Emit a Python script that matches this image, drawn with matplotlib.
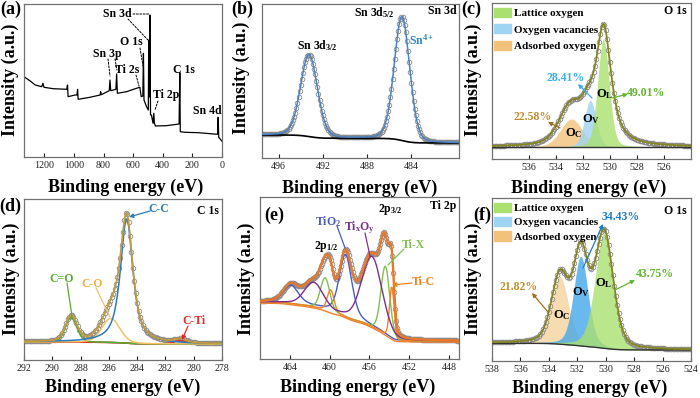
import numpy as np
import matplotlib
matplotlib.use('Agg')
import matplotlib.pyplot as plt
from matplotlib.patches import Patch

plt.rcParams['font.family'] = ['Liberation Serif', 'DejaVu Serif']
plt.rcParams['mathtext.fontset'] = 'custom'
plt.rcParams['mathtext.rm'] = 'Liberation Serif'
plt.rcParams['mathtext.bf'] = 'Liberation Serif:bold'
plt.rcParams['mathtext.it'] = 'Liberation Serif:italic'

# ---------------- data ----------------
# (a) survey spectrum
survey_ev = [1335, 1296, 1262, 1218, 1210, 1203, 1140, 1049, 1044, 1040, 993, 980, 976, 972,
             893, 824, 820, 816, 762, 757, 752, 717, 712, 707, 645, 566, 555, 546, 535, 531,
             527, 510, 498, 495, 491, 487, 483, 477, 466, 461, 457, 450, 376, 290, 285, 282,
             250, 159, 30, 26, 22, 0]
survey_int = [80, 76, 72, 70.3, 73.7, 69.7, 68.3, 67.7, 72, 60.3, 62, 62, 67.7, 57.7,
              59.7, 62, 65.3, 62.3, 66.3, 77, 66.3, 67.7, 83, 63.7, 65.3, 69.3, 69.7, 60.3, 61, 103.7,
              57, 50.3, 47, 117, 60, 142, 42, 42, 33.7, 43.7, 34, 31, 31.3, 33, 84.3, 25.3,
              24.7, 24.3, 22.7, 39.7, 19.7, 15.7]
survey_labels = ['Sn 3d', 'O 1s', 'Sn 3p', 'Ti 2s', 'Ti 2p', 'C 1s', 'Sn 4d']

# (b) Sn 3d
b_names = ['Sn 3d3/2', 'Sn 3d5/2']
b_centers = [493.25, 484.85]
b_heights = [82, 124]
b_fwhm = [1.8, 1.65]
b_eta = [0.15, 0.15]
b_bg = [23, 15]

# (c) O 1s components
c_names = ['Adsorbed oxygen', 'Oxygen vacancies', 'Lattice oxygen']
c_centers = [532.83, 531.44, 530.47]
c_heights = [28, 47, 108]
c_fwhm = [1.9, 1.0, 1.0]
c_eta = [0.2, 0.2, 0.2]
c_pct = ['22.58%', '28.41%', '49.01%']
c_bg = [12, 12]
# (c) fitted envelope
c_env_centers = [530.45, 531.6, 532.9]
c_env_heights = [118, 22, 38]
c_env_fwhm = [1.35, 1.2, 2.0]
c_env_eta = [0.8, 0.3, 0.4]

# (d) C 1s
d_names = ['C-C', 'C-O', 'C=O', 'C-Ti']
d_centers = [284.74, 285.86, 288.66, 280.95]
d_heights = [125, 24, 25, 3.5]
d_fwhm = [1.05, 1.5, 0.95, 1.0]
d_eta = [0.8, 0.2, 0.2, 0.2]
d_bg = [18, 16]

# (e) Ti 2p  (2p3/2, 2p1/2 for each species)
e_names = ['TiO2', 'Ti-X', 'Ti-C', 'TixOy']
e_centers = [[458.4, 463.9], [454.4, 460.45], [453.75, 459.9], [455.75, 461.6]]
e_heights = [[62, 18], [68, 32], [52, 22], [70, 24]]
e_fwhm = [[1.5, 1.8], [1.05, 1.1], [0.55, 0.8], [2.4, 2.2]]
e_eta = [0.4, 0.1, 0.1, 0.2]
e_bg = [57, 18]

# (f) O 1s
f_names = ['Adsorbed oxygen', 'Oxygen vacancies', 'Lattice oxygen']
f_centers = [533.21, 531.75, 530.11]
f_heights = [68, 90, 115]
f_fwhm = [1.4, 1.2, 1.5]
f_eta = [0.3, 0.3, 0.3]
f_pct = ['21.82%', '34.43%', '43.75%']
f_bg = [17.7, 11]

# ---------------- helpers ----------------
W, H = 700, 398
fig = plt.figure(figsize=(7, 3.98), dpi=100)


def box(l, t, r, b):
    return [l / W, 1 - b / H, (r - l) / W, (b - t) / H]


def F(px, py):
    return (px / W, 1 - py / H)


def pv(x, c, h, w, eta):
    g = np.exp(-4 * np.log(2) * ((x - c) / w) ** 2)
    l = 1.0 / (1 + 4 * ((x - c) / w) ** 2)
    return h * (eta * l + (1 - eta) * g)


def shirley(x, p, left, right):
    cum = np.cumsum(p)
    return right + (left - right) * cum / cum[-1]


SPINE = '#707070'
GRAY = '#8a8a8a'


def style(ax, xlim, ylim, ticks):
    ax.set_xlim(*xlim)
    ax.set_ylim(*ylim)
    ax.set_xticks(ticks)
    ax.set_yticks([])
    ax.tick_params(axis='x', direction='in', length=3, width=0.8, pad=3,
                   labelsize=7.2, colors='#222222')
    for s in ax.spines.values():
        s.set_color(SPINE)
        s.set_linewidth(0.9)


def txt(px, py, s, size=8.5, color='black', **kw):
    fig.text(*F(px, py), s, fontsize=size, fontweight='bold', color=color,
             ha=kw.pop('ha', 'center'), va=kw.pop('va', 'center'), **kw)


def arrow(p0, p1, color, head=True, ls='-', lw=0.9):
    fig.add_artist(matplotlib.patches.FancyArrowPatch(
        F(*p0), F(*p1), transform=fig.transFigure,
        arrowstyle='-|>' if head else '-', mutation_scale=6,
        color=color, lw=lw, linestyle=ls, shrinkA=0, shrinkB=0))


def circles(ax, x, y):
    ax.plot(x, y, 'o', ms=3.3, mfc='none', mec=GRAY, mew=0.6, zorder=2)


LEG = dict(loc='upper left', frameon=False, prop={'weight': 'bold', 'size': 8},
           handlelength=1.5, handleheight=0.9, handletextpad=0.3, borderpad=0.2,
           borderaxespad=0.0)

# ---------------- (a) ----------------
axa = fig.add_axes(box(24, 4, 222, 157))
axa.plot(survey_ev, survey_int, color='black', lw=0.9)
style(axa, (1338, 0), (0, 153), [1200, 1000, 800, 600, 400, 200, 0])
lab_pos = [(117, 14), (131, 42), (107, 54), (127, 70), (166, 95), (184, 70), (207, 111)]
for s, p in zip(survey_labels, lab_pos):
    txt(*p, s)
for p0, p1 in [((133, 14), (150, 14)), ((128, 19), (148, 40)), ((140, 48), (143, 66)),
               ((108, 59), (110, 76)), ((115, 59), (117, 70)), ((136, 75), (139, 86)),
               ((158, 101), (155, 110))]:
    arrow(p0, p1, 'black', head=False, ls=(0, (2, 1.5)), lw=0.7)

# ---------------- (b) ----------------
axb = fig.add_axes(box(262, 4, 459, 158))
xb = np.arange(479.7, 497.55, 0.1)
pb = sum(pv(xb, c, h, w, e) for c, h, w, e in zip(b_centers, b_heights, b_fwhm, b_eta))
bgb = shirley(xb, pb, b_bg[0], b_bg[1])
circles(axb, xb, bgb + pb)
axb.plot(xb, bgb, color='black', lw=1.2, zorder=3)
axb.plot(xb, bgb + pb, color='#4a80c4', lw=1.1, zorder=4)
style(axb, (497.5, 479.7), (0, 154), [496, 492, 488, 484])
txt(442, 11, 'Sn 3d')
txt(374, 13, r'Sn 3d$_{\mathbf{5/2}}$')
txt(317, 46, r'Sn 3d$_{\mathbf{3/2}}$')
txt(421, 40, r'Sn$^{\mathbf{4+}}$', color='#2f86c8')

# ---------------- (c) ----------------
FILL_G, FILL_B, FILL_O = '#a9e06f', '#9fd4f2', '#f2c27a'
axc = fig.add_axes(box(492, 3, 691, 159))
xc = np.arange(524.0, 538.75, 0.1)
pcs = [pv(xc, c, h, w, e) for c, h, w, e in zip(c_centers, c_heights, c_fwhm, c_eta)]
pe = sum(pv(xc, c, h, w, e) for c, h, w, e in zip(c_env_centers, c_env_heights, c_env_fwhm, c_env_eta))
bgc = shirley(xc, pe, c_bg[0], c_bg[1])
for pcomp, col in zip(pcs, [FILL_O, FILL_B, FILL_G]):
    axc.fill_between(xc, bgc, bgc + pcomp, color=col, alpha=0.8, lw=0, zorder=1)
circles(axc, xc, bgc + pe)
axc.plot(xc, bgc, color='#333333', lw=1.0, zorder=3)
axc.plot(xc, bgc + pe, color='#858520', lw=1.3, zorder=4)
style(axc, (538.7, 524.0), (0, 156), [536, 534, 532, 530, 528, 526])
handles = [Patch(color=FILL_G, label=c_names[2]), Patch(color=FILL_B, label=c_names[1]),
           Patch(color=FILL_O, label=c_names[0])]
axc.legend(handles=handles, bbox_to_anchor=(0.0, 0.985), labelspacing=0.55, **LEG)
txt(675, 11, 'O 1s')
txt(566, 78, c_pct[1], color='#3aaeea')
txt(646, 93, c_pct[2], color='#62b530')
txt(533, 117, c_pct[0], color='#c09030')
arrow((592, 98), (578, 84), '#3aaeea')
arrow((612, 98), (628, 94), '#62b530')
arrow((560, 128), (548, 122), '#a07020')
txt(605, 94, r'O$_\mathbf{L}$', size=9)
txt(591, 119, r'O$_\mathbf{V}$', size=9)
txt(574, 133, r'O$_\mathbf{C}$', size=9)

# ---------------- (d) ----------------
axd = fig.add_axes(box(24, 199, 222, 360))
xd = np.arange(278.0, 292.05, 0.1)
d_cols = ['#2a7cc0', '#f5c266', '#5aab2e', '#e62a2a']
pds = [pv(xd, c, h, w, e) for c, h, w, e in zip(d_centers, d_heights, d_fwhm, d_eta)]
pdsum = sum(pds)
bgd = shirley(xd, pdsum, d_bg[0], d_bg[1])
circles(axd, xd, bgd + pdsum)
axd.plot(xd, bgd, color='#333333', lw=1.0, zorder=3)
for pcomp, col in zip(pds[::-1], d_cols[::-1]):
    axd.plot(xd, bgd + pcomp, color=col, lw=1.1, zorder=4)
axd.plot(xd, bgd + pdsum, color='#c49a3c', lw=1.3, zorder=5)
style(axd, (292, 278), (0, 161), list(range(292, 277, -2)))
txt(208, 211, 'C 1s')
txt(159, 209, 'C-C', color=d_cols[0])
arrow((150, 211), (129, 217), d_cols[0])
txt(62, 279, 'C=O', color=d_cols[2])
arrow((67, 283), (72, 316), d_cols[2], head=False)
txt(92, 284, 'C-O', color='#f0b040')
arrow((96, 288), (110, 317), '#f5c266', head=False)
txt(194, 321, 'C-Ti', color=d_cols[3])
arrow((188, 326), (182, 340), d_cols[3])

# ---------------- (e) ----------------
axe = fig.add_axes(box(260, 197, 459, 359))
xe = np.arange(447.0, 467.05, 0.1)
e_cols = ['#4a5bc4', '#80c050', '#f58220', '#7e2f8e']
pes = []
for cs, hs, ws, et in zip(e_centers, e_heights, e_fwhm, e_eta):
    pes.append(sum(pv(xe, c, h, w, et) for c, h, w in zip(cs, hs, ws)))
pesum = sum(pes)
bge = shirley(xe, pesum, e_bg[0], e_bg[1])
circles(axe, xe, bge + pesum)
axe.plot(xe, bge - 1.2, color='#f08030', lw=1.0, zorder=3)
for pcomp, col in zip(pes, e_cols):
    axe.plot(xe, bge + pcomp, color=col, lw=1.0, zorder=4)
axe.plot(xe, bge + pesum, color='#e8782a', lw=1.7, zorder=5)
style(axe, (467, 447), (0, 162), [464, 460, 456, 452, 448])
txt(443, 206, 'Ti 2p')
txt(390, 210, r'2p$_{\mathbf{3/2}}$')
txt(326, 247, r'2p$_{\mathbf{1/2}}$')
txt(328, 222, r'TiO$_\mathbf{2}$', color=e_cols[0])
arrow((337, 226), (345, 248), e_cols[0], head=False)
txt(359, 228, r'Ti$_\mathbf{x}$O$_\mathbf{y}$', color=e_cols[3])
arrow((365, 233), (370, 256), e_cols[3], head=False)
txt(413, 245, 'Ti-X', color=e_cols[1])
arrow((404, 249), (388, 265), e_cols[1], head=False)
txt(423, 282, 'Ti-C', color=e_cols[2])
arrow((412, 283), (392, 285), e_cols[2])

# ---------------- (f) ----------------
FILL_B2, FILL_O2 = '#44a8ea', '#f5d29e'
axf = fig.add_axes(box(492, 198, 691, 361))
xf = np.arange(524.0, 538.05, 0.1)
pfs = [pv(xf, c, h, w, e) for c, h, w, e in zip(f_centers, f_heights, f_fwhm, f_eta)]
pfsum = sum(pfs)
bgf = shirley(xf, pfsum, f_bg[0], f_bg[1])
for pcomp, col in zip(pfs, [FILL_O2, FILL_B2, FILL_G]):
    axf.fill_between(xf, bgf, bgf + pcomp, color=col, alpha=0.8, lw=0, zorder=1)
circles(axf, xf, bgf + pfsum)
axf.plot(xf, bgf, color='#333333', lw=1.0, zorder=3)
axf.plot(xf, bgf + pfsum, color='#858520', lw=1.3, zorder=4)
style(axf, (538, 524), (0, 163), list(range(538, 523, -2)))
axf.legend(handles=handles, bbox_to_anchor=(0.0, 0.985), labelspacing=0.35, **LEG)
txt(675, 211, 'O 1s')
txt(621, 217, f_pct[1], color='#1f7cc8')
arrow((583, 268), (603, 224), '#1f7cc8')
txt(655, 274, f_pct[2], color='#62b530')
arrow((615, 290), (635, 280), '#62b530')
txt(519, 287, f_pct[0], color='#c09030')
arrow((548, 312), (532, 293), '#a07020')
txt(604, 283, r'O$_\mathbf{L}$', size=9)
txt(581, 292, r'O$_\mathbf{V}$', size=9)
txt(562, 315, r'O$_\mathbf{C}$', size=9)

# ---------------- shared labels ----------------
for (x, y) in [(126, 187), (360, 188), (589, 188), (123, 387), (358, 387), (590, 388)]:
    txt(x, y, 'Binding energy (eV)', size=13)
for (x, y) in [(10, 80), (241, 78), (473, 80), (11, 279), (246, 279), (473, 279)]:
    txt(x, y, 'Intensity (a.u.)', size=13, rotation=90)
for s, (x, y) in zip(['(a)', '(b)', '(c)', '(d)', '(e)', '(f)'],
                     [(11, 9), (242, 9), (471, 9), (10, 206), (274, 215), (482, 215)]):
    txt(x, y, s, size=13)

fig.savefig('out.png', dpi=100)
